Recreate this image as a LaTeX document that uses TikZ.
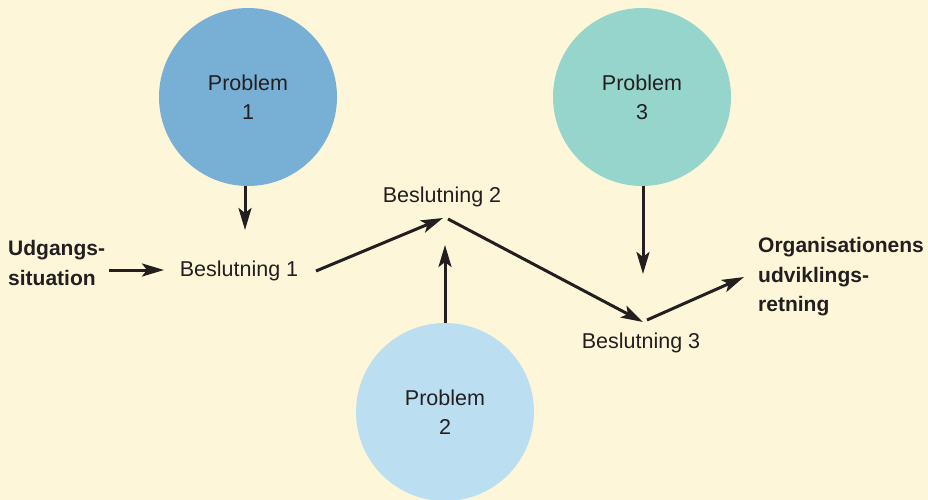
\documentclass[tikz,border=0pt]{standalone}
\usepackage{fontspec}
\setmainfont{Liberation Sans}
\usetikzlibrary{arrows.meta}
\definecolor{paper}{HTML}{FEF6D8}
\definecolor{inkc}{HTML}{231F20}
\definecolor{probA}{HTML}{78B0D5}
\definecolor{probB}{HTML}{BCDEF1}
\definecolor{probC}{HTML}{96D5CC}
\begin{document}
\begin{tikzpicture}[x=1pt,y=-1pt,
  problem/.style={circle,minimum size=178pt,inner sep=0pt,align=center,
    font=\fontsize{21.5}{29}\selectfont,text=inkc},
  decision/.style={inner sep=0pt,font=\fontsize{21.5}{29}\selectfont,text=inkc},
  endlabel/.style={inner sep=0pt,align=left,font=\fontsize{21}{29.5}\selectfont\bfseries,text=inkc},
  flow/.style={draw=inkc,line width=3pt,
    -{Stealth[length=22pt,width=13pt,inset=5pt]}}]
  % page background
  \fill[paper] (0,0) rectangle (928,500);
  \useasboundingbox (0,0) rectangle (928,500);

  % problem circles
  \node[problem,fill=probA] (p1) at (248,97) {Problem\\1};
  \node[problem,fill=probC] (p3) at (642,97) {Problem\\3};
  \node[problem,fill=probB] (p2) at (445,412) {Problem\\2};

  % decisions and outer labels
  \node[decision] (b1) at (239,271) {Beslutning 1};
  \node[decision] (b2) at (442,197) {Beslutning 2};
  \node[decision] (b3) at (641,343) {Beslutning 3};
  \node[endlabel,anchor=west] (start) at (8,263) {Udgangs-\\situation};
  \node[endlabel,anchor=west] (goal) at (758,277) {Organisationens\\udviklings-\\retning};

  % connector end points around the decisions
  \coordinate (b1in)  at (164,270);
  \coordinate (b1out) at (316,271);
  \coordinate (b1top) at (245,230);
  \coordinate (b2in)  at (443,218);
  \coordinate (b2out) at (448,219);
  \coordinate (b2bot) at (445,245);
  \coordinate (b3in)  at (643,322);
  \coordinate (b3out) at (647,320);
  \coordinate (b3top) at (643,274);
  \coordinate (goalin) at (744,277);
  \coordinate (startout) at (109,270);

  % connectors
  \draw[flow] (p1.south -| b1top) -- (b1top);
  \draw[flow] (startout) -- (b1in);
  \draw[flow] (b1out) -- (b2in);
  \draw[flow] (p2.north) -- (b2bot);
  \draw[flow] (b2out) -- (b3in);
  \draw[flow] (p3.south -| b3top) -- (b3top);
  \draw[flow] (b3out) -- (goalin);
\end{tikzpicture}
\end{document}
